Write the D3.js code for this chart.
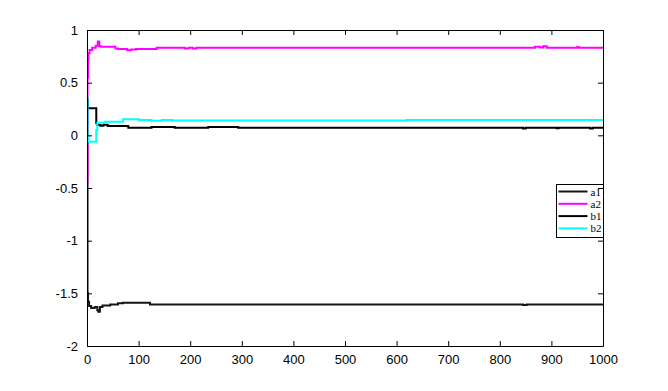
<!DOCTYPE html>
<html>
<head>
<meta charset="utf-8">
<script src="https://cdn.jsdelivr.net/npm/d3@7"></script>
<style>
  body { margin: 0; background: #fff; }
  svg { display: block; }
  .tick-label { font-family: "Liberation Sans", Arial, sans-serif; font-size: 13px; fill: #000; }
  .leg-label { font-family: "Liberation Serif", "Times New Roman", serif; font-size: 11px; fill: #000; }
</style>
</head>
<body>
<div id="chart"></div>
<script>
// series (change points, drawn as steps)
const a1X = [0, 1, 2, 4, 8, 15, 20, 22, 25, 30, 45, 60, 70, 122, 300, 845, 852, 980, 1000];
const a1Y = [0.35, -1.5, -1.58, -1.62, -1.64, -1.63, -1.66, -1.675, -1.63, -1.615, -1.605, -1.595, -1.59, -1.605, -1.605, -1.61, -1.605, -1.605, -1.605];

const a2X = [0, 1, 2, 3, 5, 10, 17, 21, 24, 27, 55, 60, 78, 85, 95, 135, 190, 197, 205, 212, 868, 878, 884, 891, 950, 953, 1000];
const a2Y = [-0.45, 0.55, 0.72, 0.78, 0.81, 0.832, 0.85, 0.89, 0.845, 0.84, 0.825, 0.82, 0.807, 0.815, 0.82, 0.832, 0.825, 0.832, 0.825, 0.832, 0.842, 0.835, 0.845, 0.832, 0.838, 0.832, 0.832];

const b1X = [0, 1, 18, 20, 26, 32, 40, 80, 125, 170, 235, 293, 845, 850, 910, 914, 975, 980, 1000];
const b1Y = [0.33, 0.256, 0.114, 0.098, 0.09, 0.1, 0.088, 0.072, 0.078, 0.072, 0.08, 0.072, 0.065, 0.072, 0.068, 0.072, 0.065, 0.072, 0.072];

const b2X = [0, 1, 3, 18, 20, 35, 70, 100, 125, 145, 165, 620, 1000];
const b2Y = [0.35, -0.01, -0.06, 0.05, 0.12, 0.13, 0.152, 0.145, 0.138, 0.145, 0.14, 0.145, 0.145];

const seriesNames = ["a1", "a2", "b1", "b2"];
const seriesColors = ["#151515", "#ff00ff", "#000000", "#00ffff"];

const xTicks = [0, 100, 200, 300, 400, 500, 600, 700, 800, 900, 1000];
const yTicks = [1, 0.5, 0, -0.5, -1, -1.5, -2];

const svgWidth = 668;
const svgHeight = 391;
const margin = { top: 30, right: 65, bottom: 45, left: 87 };
const chartWidth = svgWidth - margin.left - margin.right;
const chartHeight = svgHeight - margin.top - margin.bottom;

const svg = d3.select("#chart")
  .append("svg")
  .attr("width", svgWidth)
  .attr("height", svgHeight);

const chartGroup = svg.append("g")
  .attr("transform", `translate(${margin.left}, ${margin.top})`);

const xScale = d3.scaleLinear().domain([0, 1000]).range([0, chartWidth]);
const yScale = d3.scaleLinear().domain([-2, 1]).range([chartHeight, 0]);

const series = [
  { name: "a1", xs: a1X, ys: a1Y },
  { name: "a2", xs: a2X, ys: a2Y },
  { name: "b1", xs: b1X, ys: b1Y },
  { name: "b2", xs: b2X, ys: b2Y }
];

const line = d3.line()
  .x(d => xScale(d[0]))
  .y(d => yScale(d[1]))
  .curve(d3.curveStepAfter);

chartGroup.append("defs").append("clipPath").attr("id", "clip")
  .append("rect").attr("width", chartWidth).attr("height", chartHeight);

chartGroup.append("g").attr("clip-path", "url(#clip)")
  .selectAll("path")
  .data(series)
  .enter()
  .append("path")
  .attr("d", s => line(s.xs.map((x, i) => [x, s.ys[i]])))
  .attr("fill", "none")
  .attr("stroke", (s, i) => seriesColors[i])
  .attr("stroke-width", 2);

// legend box in the lower right, overlapping the right axis
const legX = Math.round(xScale(909)), legY = Math.round(yScale(-0.46));
const legend = chartGroup.append("g").attr("transform", `translate(${legX + 0.5}, ${legY + 0.5})`);
legend.append("rect")
  .attr("width", chartWidth - legX)
  .attr("height", 53)
  .attr("fill", "#fff")
  .attr("stroke", "#000");
seriesNames.forEach((n, i) => {
  const y = 7 + i * 12.3;
  legend.append("line")
    .attr("x1", 2).attr("x2", 31)
    .attr("y1", y).attr("y2", y)
    .attr("stroke", seriesColors[i])
    .attr("stroke-width", 2);
  legend.append("text")
    .attr("class", "leg-label")
    .attr("x", 34).attr("y", y + 4)
    .text(n);
});

// axes, MATLAB style with ticks inside on all four sides
const fmt = d => String(d);
chartGroup.append("g")
  .attr("transform", `translate(0,${chartHeight})`)
  .call(d3.axisBottom(xScale).tickValues(xTicks).tickSizeInner(-5).tickSizeOuter(0).tickPadding(9).tickFormat(fmt))
  .call(g => g.selectAll("text").attr("class", "tick-label").attr("font-family", null).attr("font-size", null));
chartGroup.append("g")
  .call(d3.axisTop(xScale).tickValues(xTicks).tickSizeInner(-5).tickSizeOuter(0).tickFormat(""));
chartGroup.append("g")
  .call(d3.axisLeft(yScale).tickValues(yTicks).tickSizeInner(-5).tickSizeOuter(0).tickPadding(9).tickFormat(fmt))
  .call(g => g.selectAll("text").attr("class", "tick-label").attr("font-family", null).attr("font-size", null));
chartGroup.append("g")
  .attr("transform", `translate(${chartWidth},0)`)
  .call(d3.axisRight(yScale).tickValues(yTicks).tickSizeInner(-5).tickSizeOuter(0).tickFormat(""));

chartGroup.selectAll(".domain").attr("stroke", "#000");
chartGroup.selectAll(".tick line").attr("stroke", "#000");
</script>
</body>
</html>
